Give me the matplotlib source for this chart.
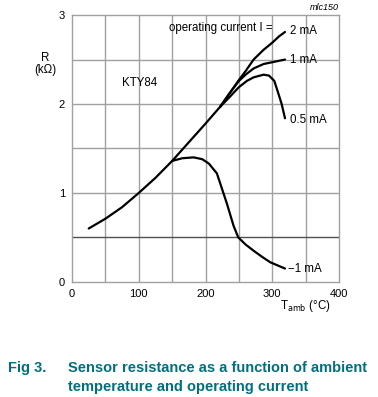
import matplotlib.pyplot as plt

# ----------  Data  ----------

t_common = [25, 50, 75, 100, 125, 150, 175, 200, 222]
r_common = [0.60, 0.71, 0.84, 1.00, 1.17, 1.36, 1.57, 1.78, 1.97]

t_2ma = [222, 235, 250, 260, 272, 287, 300, 310, 319]
r_2ma = [1.97, 2.11, 2.27, 2.37, 2.50, 2.61, 2.69, 2.76, 2.81]

t_1ma = [222, 235, 250, 260, 272, 287, 300, 319]
r_1ma = [1.97, 2.11, 2.26, 2.33, 2.40, 2.45, 2.47, 2.50]

t_05ma = [222, 235, 250, 262, 272, 287, 295, 303, 309, 314, 319]
r_05ma = [1.97, 2.07, 2.19, 2.26, 2.30, 2.33, 2.32, 2.26, 2.12, 2.00, 1.84]

t_m1ma = [150, 165, 182, 195, 205, 217, 232, 242, 249, 260, 272, 285, 297, 319]
r_m1ma = [1.36, 1.39, 1.40, 1.38, 1.33, 1.22, 0.88, 0.63, 0.50, 0.42, 0.35, 0.28, 0.22, 0.15]

x_ticks = [0, 100, 200, 300, 400]
y_ticks = [0, 1, 2, 3]

# ----------  Plotting  ----------

plt.rcParams['font.family'] = ['Liberation Sans', 'DejaVu Sans']

fig = plt.figure(figsize=(3.78, 3.97), dpi=100)
ax = fig.add_axes([0.1905, 0.290, 0.7065, 0.672])

for x in range(50, 400, 50):
    ax.axvline(x, color='#a0a0a0', lw=1.0, zorder=1)
for y in [0.5, 1.0, 1.5, 2.0, 2.5]:
    ax.axhline(y, color='#505050' if y == 0.5 else '#a0a0a0', lw=1.0, zorder=1)

kw = dict(color='black', lw=1.6, solid_capstyle='round', zorder=3)
ax.plot(t_common, r_common, **kw)
ax.plot(t_2ma, r_2ma, **kw)
ax.plot(t_1ma, r_1ma, **kw)
ax.plot(t_05ma, r_05ma, **kw)
ax.plot(t_m1ma, r_m1ma, **kw)

ax.set_xlim(0, 400)
ax.set_ylim(0, 3)
ax.set_xticks(x_ticks)
ax.set_yticks(y_ticks)
ax.tick_params(length=0, labelsize=8, pad=5)
for s in ax.spines.values():
    s.set_color('#a0a0a0')
    s.set_linewidth(1.0)

fs = 8.3
ax.text(-40, 2.45, 'R\n(kΩ)', ha='center', va='center', fontsize=fs, linespacing=1.1)
ax.text(300, 2.85, 'operating current I =', ha='right', va='center', fontsize=fs)
ax.text(326, 2.82, '2 mA', ha='left', va='center', fontsize=fs)
ax.text(326, 2.50, '1 mA', ha='left', va='center', fontsize=fs)
ax.text(326, 1.82, '0.5 mA', ha='left', va='center', fontsize=fs)
ax.text(323, 0.15, '\u22121 mA', ha='left', va='center', fontsize=fs)
ax.text(102, 2.24, 'KTY84', ha='center', va='center', fontsize=fs)
ax.text(400, 3.04, 'mlc150', ha='right', va='bottom', fontsize=6.5, style='italic')
ax.text(311, -0.30, r'T$_{\rm amb}$ (°C)', ha='left', va='baseline', fontsize=fs)

teal = '#00707f'
cap = dict(fontsize=10.5, weight='bold', color=teal, va='center')
fig.text(8 / 378, 1 - 368 / 397, 'Fig 3.', **cap)
fig.text(68 / 378, 1 - 368 / 397, 'Sensor resistance as a function of ambient', **cap)
fig.text(68 / 378, 1 - 387 / 397, 'temperature and operating current', **cap)

fig.savefig('out.png', dpi=100)
